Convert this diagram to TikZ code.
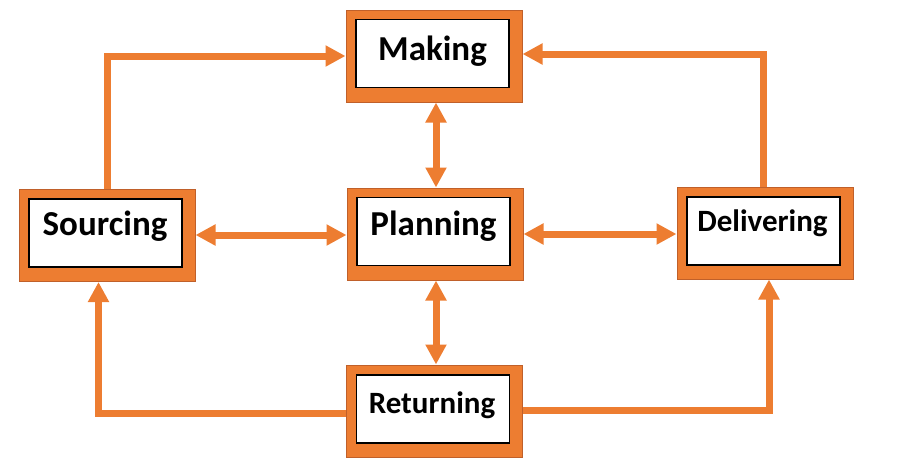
\documentclass[tikz,border=0pt]{standalone}
\usepackage{fontspec}
\setmainfont{Carlito}
\usetikzlibrary{arrows.meta}
\definecolor{orng}{HTML}{ED7D31}
\definecolor{orngdark}{HTML}{C0602A}
\tikzset{
  frame/.style={rectangle, fill=orng, draw=orngdark, line width=1pt,
    minimum width=176pt, minimum height=92pt, inner sep=0pt},
  panel/.style={rectangle, fill=white, draw=black, line width=1.2pt,
    minimum width=153pt, minimum height=68pt, inner sep=0pt},
  boxtext/.style={anchor=base, inner sep=0pt, font=\bfseries\fontsize{35}{40}\selectfont},
  smalltext/.style={anchor=base, inner sep=0pt, font=\bfseries\fontsize{31}{36}\selectfont},
  flow/.style={draw=orng, line width=7pt, line join=miter},
  oneway/.style={flow, -{Triangle[length=20pt,width=20pt]}},
  twoway/.style={flow, {Triangle[length=20pt,width=20pt]}-{Triangle[length=20pt,width=20pt]}},
}
\begin{document}
\begin{tikzpicture}[x=1pt,y=-1pt]
\useasboundingbox (0,0) rectangle (898,464);

% stage boxes: orange frame, white panel, caption
\node[frame] (making) at (434,56) {};
\node[panel] (making-in) at (432.5,53.5) {};
\node[boxtext] (making-t) at (432.5,60) {Making};

\node[frame] (sourcing) at (107,235.5) {};
\node[panel] (sourcing-in) at (105.5,233) {};
\node[boxtext] (sourcing-t) at (105,235) {Sourcing};

\node[frame] (planning) at (435,234) {};
\node[panel] (planning-in) at (433.5,231.5) {};
\node[boxtext] (planning-t) at (433.5,235) {Planning};

\node[frame] (delivering) at (765,233) {};
\node[panel] (delivering-in) at (763.5,231) {};
\node[smalltext] (delivering-t) at (762.5,231) {Delivering};

\node[frame] (returning) at (434.5,411) {};
\node[panel] (returning-in) at (433,409) {};
\node[smalltext] (returning-t) at (432,413) {Returning};

% outer loop
\draw[oneway] (sourcing.north) |- (making.west);
\draw[oneway] ([xshift=-1.5pt]delivering.north) |- ([yshift=2pt]making.east);
\draw[oneway] ([yshift=-2.5pt]returning.west) -| ([xshift=-8.5pt]sourcing.south);
\draw[oneway] ([yshift=0.5pt]returning.east) -| ([xshift=4pt]delivering.south);

% links with the planning stage
\draw[twoway] (planning.north -| 436,0) -- (making.south -| 436,0);
\draw[twoway] (planning.south -| 436,0) -- (returning.north -| 436,0);
\draw[twoway] (sourcing.east |- 0,235) -- (planning.west |- 0,235);
\draw[twoway] (planning.east |- 0,234) -- (delivering.west |- 0,234);
\end{tikzpicture}
\end{document}
